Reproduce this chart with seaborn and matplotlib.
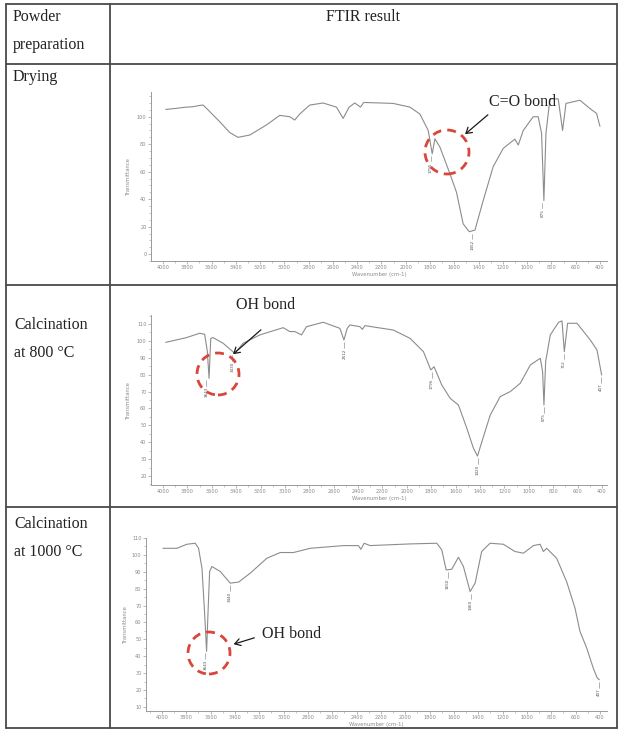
import numpy as np
import pandas as pd
import matplotlib
matplotlib.use("Agg")
import matplotlib.pyplot as plt
import seaborn as sns
from matplotlib.lines import Line2D
from matplotlib.patches import Ellipse
from matplotlib.ticker import MultipleLocator

# ---------------------------------------------------------------
# Spectra (wavenumber cm-1, transmittance)
# ---------------------------------------------------------------
drying_wn = [3978, 3900, 3830, 3753, 3700, 3670, 3629, 3533, 3450, 3382, 3285, 3148, 3038,
             2956, 2915, 2873, 2791, 2681, 2571, 2516, 2467, 2420, 2373, 2346, 2104, 1966,
             1884, 1815, 1782, 1760, 1719, 1637, 1582, 1527, 1477, 1430, 1362, 1280, 1197,
             1101, 1073, 1032, 950, 909, 881, 862, 845, 812, 744, 708, 680, 565, 483, 428, 400]
drying_T = [105.3, 106.0, 106.8, 107.3, 108.2, 108.5, 105.0, 96.4, 88.5, 85.0, 86.7, 94.0, 101.0,
            100.0, 97.6, 102.0, 108.5, 110.0, 107.0, 98.8, 107.0, 110.0, 107.0, 110.4, 109.7, 107.0,
            102.0, 90.0, 73.0, 84.0, 78.0, 58.7, 45.0, 22.0, 16.3, 17.5, 39.0, 63.6, 77.0,
            83.7, 79.4, 90.0, 100.0, 100.0, 88.0, 39.0, 88.0, 113.0, 113.0, 90.0, 109.7, 112.0, 106.0, 102.4, 93.0]

c800_wn = [3978, 3808, 3699, 3658, 3636, 3622, 3608, 3589, 3507, 3411, 3343, 3206, 3014, 2960,
           2918, 2864, 2823, 2686, 2549, 2516, 2489, 2467, 2385, 2365, 2344, 2111, 1974, 1864,
           1804, 1777, 1714, 1645, 1577, 1508, 1454, 1421, 1385, 1317, 1235, 1152, 1070, 988,
           906, 887, 876, 862, 824, 756, 728, 709, 682, 605, 496, 441, 403]
c800_T = [99.1, 101.9, 104.5, 103.9, 93.6, 77.8, 101.5, 101.9, 98.6, 92.6, 98.6, 103.5, 107.8, 105.5,
          105.5, 103.5, 108.4, 111.0, 107.4, 100.5, 107.4, 109.4, 108.4, 106.8, 109.0, 106.4, 101.5, 93.6,
          82.8, 84.7, 73.9, 66.0, 62.0, 48.2, 36.4, 31.8, 40.3, 56.0, 67.0, 70.0, 74.9, 85.7,
          89.7, 81.8, 62.0, 87.7, 103.5, 111.0, 111.8, 93.6, 110.4, 110.4, 100.5, 94.6, 79.8]

c1000_wn = [3992, 3877, 3795, 3726, 3699, 3671, 3650, 3633, 3622, 3608, 3589, 3521, 3439, 3370,
            3274, 3138, 3028, 2919, 2782, 2508, 2385, 2365, 2338, 2289, 1960, 1741, 1700, 1664,
            1618, 1563, 1522, 1467, 1426, 1372, 1303, 1194, 1098, 1029, 947, 892, 865, 838,
            756, 674, 605, 564, 509, 455, 422, 405]
c1000_T = [103.9, 103.9, 106.3, 106.9, 103.9, 92.1, 66.5, 42.9, 64.6, 90.2, 93.1, 90.2, 83.3, 83.9,
           89.2, 98.0, 101.4, 101.4, 103.9, 105.5, 105.5, 103.3, 106.9, 105.5, 106.5, 106.9, 103.0, 91.1,
           91.5, 98.6, 93.1, 78.3, 83.3, 102.0, 106.9, 106.3, 102.0, 101.0, 105.5, 106.3, 102.0, 103.9,
           98.0, 84.2, 68.5, 54.7, 44.9, 33.0, 27.1, 26.1]

# labelled peaks (wavenumber, transmittance at the dip)
drying_peaks = [(1795, 73.0), (1452, 16.3), (875, 39.0)]
c800_peaks = [(3643, 77.8), (3430, 92.6), (2512, 100.5), (1795, 82.8), (1420, 31.8),
              (875, 62.0), (712, 93.6), (407, 79.8)]
c1000_peaks = [(3643, 42.9), (3440, 83.3), (1650, 91.1), (1460, 78.3), (407, 26.1)]

row_names = ["Drying", "Calcination\nat 800 °C", "Calcination\nat 1000 °C"]

W, H = 619, 730
sns.set_style("ticks")
plt.rcParams['font.family'] = ['DejaVu Sans']
fig = plt.figure(figsize=(W / 100, H / 100), dpi=100)


def fx(px):
    return px / W


def fy(py):
    return 1 - py / H


# ---------------- table grid ----------------
line_kw = dict(color='#4a4a4a', lw=1.3, transform=fig.transFigure)
left_b, right_b, top_b, bot_b, col_x = 6, 617, 4, 728, 110
for y in [top_b, 64, 285, 507, bot_b]:
    fig.add_artist(Line2D([fx(left_b), fx(right_b)], [fy(y), fy(y)], **line_kw))
for x in [left_b, col_x, right_b]:
    fig.add_artist(Line2D([fx(x), fx(x)], [fy(top_b), fy(bot_b)], **line_kw))

serif = dict(family='Liberation Serif', fontsize=11.5, color='#222222')
fig.text(fx(13), fy(17), "Powder", va='center', ha='left', **serif)
fig.text(fx(13), fy(45), "preparation", va='center', ha='left', **serif)
fig.text(fx(363), fy(17), "FTIR result", va='center', ha='center', **serif)
fig.text(fx(13), fy(77), row_names[0], va='center', ha='left', **serif)
name1 = row_names[1].split("\n")
fig.text(fx(14), fy(325), name1[0], va='center', ha='left', **serif)
fig.text(fx(14), fy(353), name1[1], va='center', ha='left', **serif)
name2 = row_names[2].split("\n")
fig.text(fx(14), fy(524), name2[0], va='center', ha='left', **serif)
fig.text(fx(14), fy(552), name2[1], va='center', ha='left', **serif)

# ---------------- spectra panels ----------------
panels = [
    dict(wn=drying_wn, T=drying_T, peaks=drying_peaks, box=(151, 607, 92, 261),
         xlim=(4099, 342), ylim=(-5, 118), major=20, minor=5, ylab_x=128),
    dict(wn=c800_wn, T=c800_T, peaks=c800_peaks, box=(151, 607, 315, 485),
         xlim=(4098, 359), ylim=(14.7, 115.3), major=10, minor=5, ylab_x=128),
    dict(wn=c1000_wn, T=c1000_T, peaks=c1000_peaks, box=(146, 607, 538, 711),
         xlim=(4131, 342), ylim=(7.6, 110), major=10, minor=5, ylab_x=125),
]

grey = '#8c8c8c'
axes = []
for p in panels:
    l, r, t, b = p['box']
    ax = fig.add_axes([fx(l), fy(b), (r - l) / W, (b - t) / H])
    df = pd.DataFrame({'wn': p['wn'], 'T': p['T']})
    sns.lineplot(data=df, x='wn', y='T', sort=False, color=grey, lw=0.8, ax=ax)
    ax.set_xlim(*p['xlim'])
    ax.set_ylim(*p['ylim'])
    ax.xaxis.set_major_locator(MultipleLocator(200))
    ax.xaxis.set_minor_locator(MultipleLocator(100))
    ax.yaxis.set_major_locator(MultipleLocator(p['major']))
    ax.yaxis.set_minor_locator(MultipleLocator(p['minor']))
    ax.set_xticks([v for v in range(4000, 399, -200)])
    ax.set_xticklabels([str(v) for v in range(4000, 399, -200)])
    for side in ['top', 'right']:
        ax.spines[side].set_visible(False)
    for side in ['left', 'bottom']:
        ax.spines[side].set_color('#9a9a9a')
        ax.spines[side].set_linewidth(0.7)
    ax.patch.set_alpha(0)
    ax.tick_params(which='major', length=2.2, width=0.5, color='#9a9a9a',
                   labelsize=3.6, labelcolor='#8a8a8a', pad=1)
    ax.tick_params(which='minor', length=1.2, width=0.4, color='#9a9a9a')
    ax.set_xlabel("Wavenumber (cm-1)", fontsize=3.8, color='#8a8a8a', labelpad=1)
    ax.set_ylabel("")
    fig.text(fx(p['ylab_x']), fy((t + b) / 2), "Transmittance", rotation=90,
             fontsize=3.8, color='#8a8a8a', ha='center', va='center')
    span = p['ylim'][1] - p['ylim'][0]
    for wn, T in p['peaks']:
        ax.plot([wn, wn], [T - 0.012 * span, T - 0.045 * span], color='#777777', lw=0.4)
        ax.text(wn, T - 0.05 * span, str(wn), rotation=90, fontsize=3.0,
                color='#555555', ha='center', va='top')
    axes.append(ax)

# ---------------- annotations ----------------
red = '#d9463c'


def circle(cx, cy, r):
    fig.add_artist(Ellipse((fx(cx), fy(cy)), 2 * r / W, 2 * r / H, transform=fig.transFigure,
                           fill=False, ec=red, lw=2.0, ls=(0, (3.2, 2.2))))


def arrow(x0, y0, x1, y1):
    fig.add_artist(matplotlib.patches.FancyArrowPatch(
        (fx(x0), fy(y0)), (fx(x1), fy(y1)), transform=fig.transFigure,
        arrowstyle='->,head_length=4,head_width=2.5', color='#1a1a1a', lw=0.9))


circle(447, 152, 22)
arrow(490, 113, 463, 136)
fig.text(fx(523), fy(102), "C=O bond", ha='center', va='center', **serif)

circle(218, 374, 21)
arrow(263, 328, 231, 356)
fig.text(fx(266), fy(305), "OH bond", ha='center', va='center', **serif)

circle(209, 653, 21)
arrow(257, 637, 231, 645)
fig.text(fx(292), fy(634), "OH bond", ha='center', va='center', **serif)

fig.savefig("out.png", dpi=100)
